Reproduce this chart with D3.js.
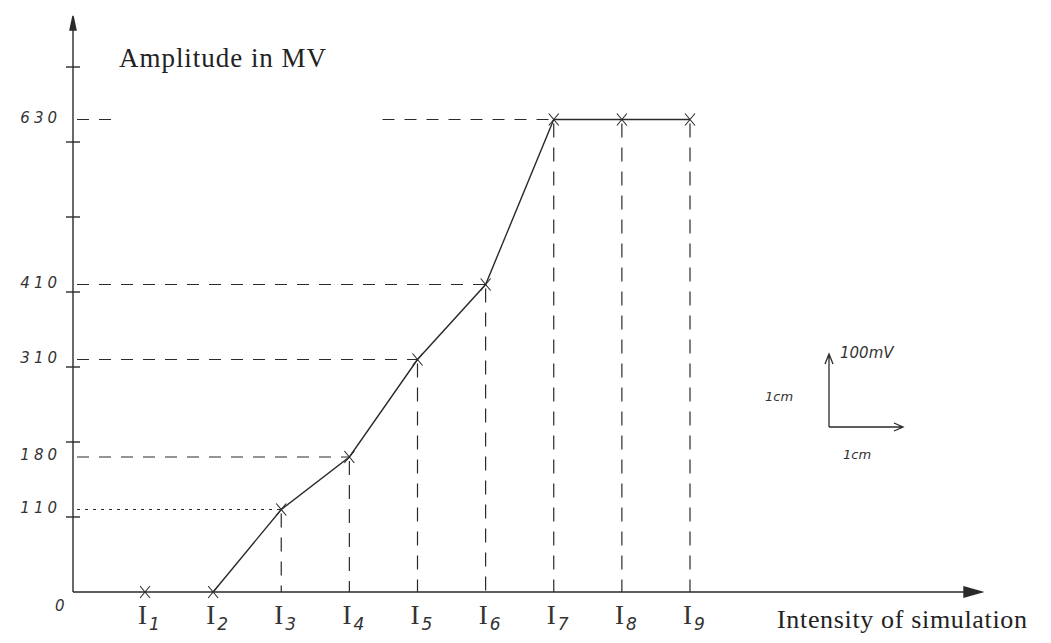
<!DOCTYPE html>
<html><head><meta charset="utf-8">
<script src="https://cdn.jsdelivr.net/npm/d3@7"></script>
<style>body{margin:0;background:#fff}svg{display:block}</style>
</head><body>
<svg id="c" width="1051" height="643"></svg>
<script>
const categories = ["1","2","3","4","5","6","7","8","9"];
const amplitude = [0, 0, 110, 180, 310, 410, 630, 630, 630];
const labelledValues = [110, 180, 310, 410, 630];
const axisTicks = [100, 200, 300, 400, 500, 600, 700];
const yTickLabels = ["0", "110", "180", "310", "410", "630"];

const svg = d3.select("#c");
const ink = "#2a2a2a";
const x0 = 73, y0 = 592;
const x = d3.scalePoint().domain(categories).range([145, 690]);
const y = d3.scaleLinear().domain([0, 700]).range([y0, 67]);

const data = categories.map((c, i) => ({c, v: amplitude[i]}));

// axes lines
const g = svg.append("g").attr("stroke", ink).attr("fill", "none").attr("stroke-width", 1.4);
g.append("line").attr("x1", x0).attr("y1", y0).attr("x2", x0).attr("y2", 18);
g.append("path").attr("d", `M${x0-3},30 L${x0},16 L${x0+3},30 Z`).attr("fill", ink);
g.append("line").attr("x1", x0).attr("y1", y0).attr("x2", 975).attr("y2", y0);
g.append("path").attr("d", `M964,${y0-5} L982,${y0} L964,${y0+5} Z`).attr("fill", ink);

// y-axis ticks (1 cm = 100)
g.selectAll("line.tk").data(axisTicks).join("line").attr("class","tk")
  .attr("x1", x0-7).attr("x2", x0+7).attr("y1", d=>y(d)).attr("y2", d=>y(d));

// horizontal guide lines
const pts = data.filter(d => labelledValues.includes(d.v) && d.c !== "8" && d.c !== "9");
pts.forEach(d => {
  if (d.v === 630) {
    g.append("line").attr("x1", x0+4).attr("x2", x0+44).attr("y1", y(d.v)).attr("y2", y(d.v))
      .attr("stroke-dasharray", "12,10").attr("stroke-width", 1.2);
    g.append("line").attr("x1", x("5")-35).attr("x2", x(d.c)).attr("y1", y(d.v)).attr("y2", y(d.v))
      .attr("stroke-dasharray", "12,10").attr("stroke-width", 1.2);
  } else {
    g.append("line").attr("x1", x0+4).attr("x2", x(d.c)).attr("y1", y(d.v)).attr("y2", y(d.v))
      .attr("stroke-dasharray", d.v === 110 ? "3,5" : "12,10").attr("stroke-width", 1.2);
  }
});

// vertical guide lines
data.filter(d => d.v > 0).forEach(d => {
  g.append("line").attr("x1", x(d.c)).attr("x2", x(d.c)).attr("y1", y(d.v)+4).attr("y2", y0)
    .attr("stroke-dasharray", "14,10").attr("stroke-width", 1.2);
});

// data line
const line = d3.line().x(d => x(d.c)).y(d => y(d.v));
g.append("path").datum(data.slice(1)).attr("d", line).attr("stroke-width", 1.4);

// markers
data.forEach(d => {
  const cx = x(d.c), cy = y(d.v);
  g.append("path").attr("d", `M${cx-5},${cy-6} L${cx+5},${cy+6} M${cx+5},${cy-6} L${cx-5},${cy+6}`)
    .attr("stroke-width", 1.1);
});

// y labels
const hand = "DejaVu Sans";
svg.selectAll("text.yl").data(yTickLabels).join("text").attr("class","yl")
  .attr("x", d => d === "0" ? 55 : x0-12).attr("y", d => d === "0" ? 611 : y(+d)+3)
  .attr("text-anchor", d => d === "0" ? "start" : "end").attr("font-family", hand).attr("font-style", "italic")
  .attr("font-size", 15).attr("letter-spacing", 4).attr("fill", "#333").text(d => d);

// x labels
const xl = svg.selectAll("text.xl").data(categories).join("text").attr("class","xl")
  .attr("x", d => x(d) - 7).attr("y", 624)
  .attr("font-family", "Liberation Serif").attr("font-size", 27).attr("fill", "#333");
xl.append("tspan").text("I");
xl.append("tspan").attr("dy", 6).attr("dx", 2).attr("font-size", 17)
  .attr("font-family", hand).attr("font-style", "italic").text(d => d);

// titles
svg.append("text").attr("x", 119).attr("y", 67).attr("font-family", "Liberation Serif")
  .attr("font-size", 27).attr("textLength", 207).attr("lengthAdjust", "spacing")
  .attr("fill", "#222").text("Amplitude in MV");
svg.append("text").attr("x", 777).attr("y", 628).attr("font-family", "Liberation Serif")
  .attr("font-size", 26).attr("textLength", 250).attr("lengthAdjust", "spacing")
  .attr("fill", "#222").text("Intensity of simulation");

// scale legend
const lg = svg.append("g").attr("stroke", ink).attr("fill", "none").attr("stroke-width", 1.3);
lg.append("path").attr("d", "M829,427 L829,356 M825,364 L829,354 L833,364");
lg.append("path").attr("d", "M829,427 L902,427 M894,423 L903,427 L894,431");
const lt = (t, xx, yy, fs) => svg.append("text").attr("x", xx).attr("y", yy).attr("font-family", hand)
  .attr("font-style", "italic").attr("font-size", fs).attr("fill", "#333").text(t);
lt("100mV", 840, 358, 15);
lt("1cm", 765, 401, 13);
lt("1cm", 843, 459, 13);
</script>
</body></html>
